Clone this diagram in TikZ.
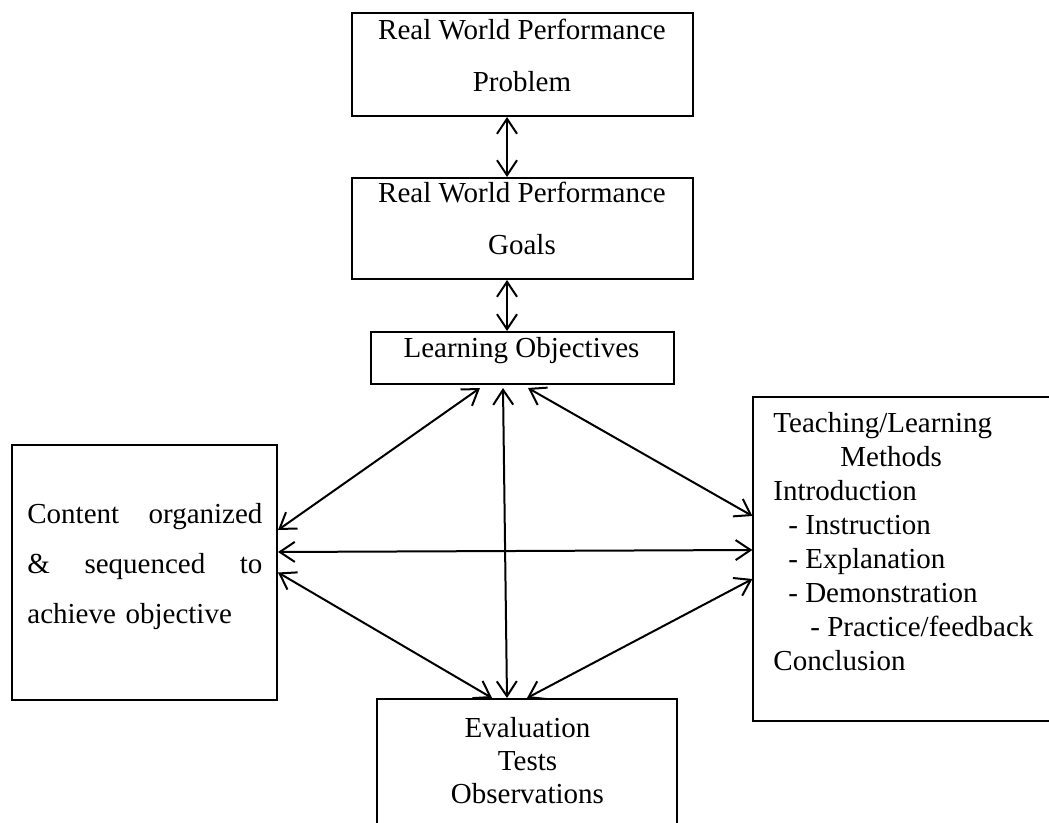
\documentclass[tikz,border=0pt]{standalone}
\usepackage{fontspec}
\setmainfont{Liberation Serif}
\usetikzlibrary{arrows.meta}

\begin{document}
\begin{tikzpicture}[
    x=0.5pt, y=-0.5pt,
    box/.style={draw, line width=1pt, inner sep=0pt},
    txt/.style={inner sep=0pt, align=#1, font=\fontsize{14.5}{26}\selectfont},
    dblarrow/.style={{Straight Barb[length=7.5pt,width=10pt]}-{Straight Barb[length=7.5pt,width=10pt]}, line width=1pt}
]
    \useasboundingbox (0,0) rectangle (1049,823);
    \clip (0,0) rectangle (1049,823);

    % Boxes
    \node[box, minimum width=170.5pt, minimum height=51.5pt] (problem) at (522.5,64.5) {};
    \node[box, minimum width=170.5pt, minimum height=50.5pt] (goals) at (522.5,228.5) {};
    \node[box, minimum width=151.5pt, minimum height=26pt] (objectives) at (522.5,358) {};
    \node[box, minimum width=132.5pt, minimum height=127.5pt] (content) at (144.5,572.5) {};
    \node[box, line width=0.6pt, minimum width=173.5pt, minimum height=162pt] (methods) at (926.5,559) {};
    \node[box, minimum width=150pt, minimum height=90.5pt] (evaluation) at (527,789.5) {};

    % Texts (base = last line)
    \node[txt=center, anchor=base] (problemtxt) at (522,92) {Real World Performance\\Problem};
    \node[txt=center, anchor=base] (goalstxt) at (522,255) {Real World Performance\\Goals};
    \node[txt=center, anchor=base] (objectivestxt) at (521.5,358) {Learning Objectives};
    \node[txt=left, anchor=base west, text width=117.5pt, font=\fontsize{14.5}{25}\selectfont] (contenttxt) at (27,523)
        {Content\hfill organized\\ \&\hfill sequenced\hfill to\\ achieve objective};
    \node[txt=left, anchor=base west, font=\fontsize{14.5}{17}\selectfont] (methodstxt) at (773,670)
        {Teaching/Learning\\ \hspace*{33.5pt}Methods\\ Introduction\\ \hspace*{7.5pt}- Instruction\\ \hspace*{7.5pt}- Explanation\\ \hspace*{7.5pt}- Demonstration\\ \hspace*{18.5pt}- Practice/feedback\\ Conclusion};
    \node[txt=center, anchor=base, font=\fontsize{14.5}{16.5}\selectfont] (evaluationtxt) at (527.5,803)
        {Evaluation\\Tests\\Observations};

    % Vertical chain
    \draw[dblarrow] ([xshift=-7.75pt]problem.south) -- ([xshift=-7.75pt]goals.north);
    \draw[dblarrow] ([xshift=-7.75pt]goals.south) -- ([xshift=-7.75pt]objectives.north);

    % Objectives to the three lower boxes
    \draw[dblarrow] ([xshift=-21.25pt, yshift=-1.5pt]objectives.south) -- ([yshift=21.25pt]content.east);
    \draw[dblarrow] ([xshift=2.75pt, yshift=-1.5pt]objectives.south) -- ([yshift=21.5pt]methods.west);
    \draw[dblarrow] ([xshift=-9.75pt, yshift=-1.5pt]objectives.south) -- ([xshift=-10pt]evaluation.north);

    % Between content, methods and evaluation
    \draw[dblarrow] ([yshift=10.25pt]content.east) -- ([yshift=4.5pt]methods.west);
    \draw[dblarrow] (content.east) -- ([xshift=-17.5pt]evaluation.north);
    \draw[dblarrow] ([yshift=-10pt]methods.west) -- (evaluation.north);
\end{tikzpicture}
\end{document}
